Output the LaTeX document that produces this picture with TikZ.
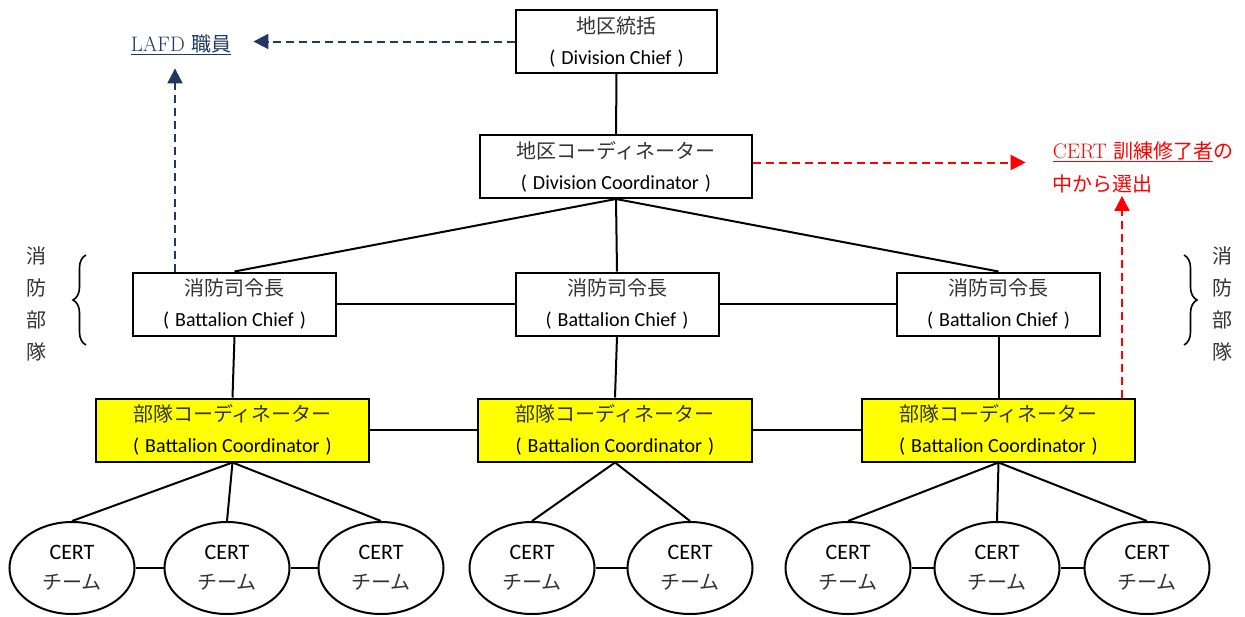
\documentclass[tikz,border=0pt]{standalone}
\usepackage{fontspec}
\newfontfamily\cjk{Noto Sans CJK JP}
\newfontfamily\calibri{Carlito}
\usetikzlibrary{arrows.meta, positioning, shapes.geometric, decorations.pathreplacing}
\definecolor{lafdBlue}{HTML}{203864}
\definecolor{certRed}{HTML}{FF0000}
\definecolor{coordYellow}{HTML}{FFFF00}
\definecolor{jpGray}{gray}{0.2}

\newcommand{\jp}[1]{{\cjk\fontsize{20}{31}\selectfont\color{jpGray}#1}}
\newcommand{\en}[1]{{\calibri\fontsize{20}{31}\selectfont #1}}
\newcommand{\paren}[1]{\en{(\kern6pt #1\kern6pt)}}

\tikzset{
    orgbox/.style={draw, line width=2pt, minimum width=#1, minimum height=63pt,
        inner sep=0pt, align=center, font=\fontsize{20}{31}\selectfont},
    coordbox/.style={orgbox=#1, fill=coordYellow},
    team/.style={draw, ellipse, line width=2pt, minimum width=125pt, minimum height=92pt,
        inner sep=0pt, align=center, font=\fontsize{20}{30}\selectfont},
    link/.style={line width=2pt},
    dashlink/.style={->, >={Triangle[width=15pt,length=15pt]}, line width=2pt, dash pattern=on 8pt off 5pt},
    sidetext/.style={align=center, inner sep=0pt, font=\fontsize{20}{32}\selectfont},
}

\begin{document}
\begin{tikzpicture}[x=1pt, y=-1pt]
    \useasboundingbox (0,0) rectangle (1245,616);

    % Top of the chain
    \node[orgbox=201] (dchief) at (616.5,41.5) {\jp{地区統括}\\\paren{Division Chief}};
    \node[orgbox=272] (dcoord) at (616,166.5) {\jp{地区コーディネーター}\\\paren{Division Coordinator}};
    \draw[link] (dchief) -- (dcoord);

    % Battalion chiefs
    \node[orgbox=203] (bchief1) at (234.5,304) {\jp{消防司令長}\\\paren{Battalion Chief}};
    \node[orgbox=203] (bchief2) at (617,304) {\jp{消防司令長}\\\paren{Battalion Chief}};
    \node[orgbox=203] (bchief3) at (998.5,304) {\jp{消防司令長}\\\paren{Battalion Chief}};
    \foreach \i in {1,2,3}
        \draw[link] (dcoord.south) -- (bchief\i.north);
    \draw[link] (bchief1) -- (bchief2);
    \draw[link] (bchief2) -- (bchief3);

    % Battalion coordinators
    \node[coordbox=273] (bcoord1) at (232.5,430) {\jp{部隊コーディネーター}\\\paren{Battalion Coordinator}};
    \node[coordbox=274] (bcoord2) at (615,430) {\jp{部隊コーディネーター}\\\paren{Battalion Coordinator}};
    \node[coordbox=273] (bcoord3) at (998.5,430) {\jp{部隊コーディネーター}\\\paren{Battalion Coordinator}};
    \foreach \i in {1,2,3}
        \draw[link] (bchief\i.south) -- (bcoord\i.north);
    \draw[link] (bcoord1) -- (bcoord2);
    \draw[link] (bcoord2) -- (bcoord3);

    % CERT teams
    \foreach \n/\x in {t1/72, t2/227, t3/381, t4/532, t5/690, t6/848, t7/997, t8/1147}
        \node[team] (\n) at (\x,568) {\en{\fontsize{22}{30}\selectfont CERT}\\\jp{チーム}};
    \foreach \n in {t1,t2,t3}
        \draw[link] (bcoord1.south) -- (\n.north);
    \foreach \n in {t4,t5}
        \draw[link] (bcoord2.south) -- (\n.north);
    \foreach \n in {t6,t7,t8}
        \draw[link] (bcoord3.south) -- (\n.north);
    \draw[link] (t1) -- (t2);
    \draw[link] (t2) -- (t3);
    \draw[link] (t4) -- (t5);
    \draw[link] (t6) -- (t7);
    \draw[link] (t7) -- (t8);

    % LAFD staff
    \node[inner sep=0pt, text=lafdBlue, font=\fontsize{21}{31}\selectfont] (lafd) at (181,45)
        {\underline{LAFD {\cjk\fontsize{20}{31}\selectfont 職員}}};
    \draw[dashlink, lafdBlue, shorten >=22pt] (dchief.west) -- (dchief.west -| lafd.east);
    \coordinate (bstart) at ([xshift=-59.5pt]bchief1.north);
    \draw[dashlink, lafdBlue, shorten >=13pt] (bstart) -- (bstart |- lafd.south);

    % CERT graduates
    \node[inner sep=0pt, text=certRed, align=left, font=\fontsize{21}{33}\selectfont] (cert) at (1143,167)
        {\underline{CERT {\cjk\fontsize{20}{33}\selectfont 訓練修了者}}{\cjk\fontsize{20}{33}\selectfont の}\\
         {\cjk\fontsize{20}{33}\selectfont 中から選出}};
    \coordinate (rstart) at ([yshift=4pt]dcoord.east);
    \draw[dashlink, certRed, shorten >=27pt] (rstart) -- (rstart -| cert.west);
    \coordinate (cstart) at ([xshift=-14pt]bcoord3.north east);
    \draw[dashlink, certRed, shorten >=3pt] (cstart) -- (cstart |- cert.south);

    % Fire battalion braces
    \node[sidetext] (fbl) at (36,304) {\jp{消}\\\jp{防}\\\jp{部}\\\jp{隊}};
    \node[sidetext] (fbr) at (1222,304) {\jp{消}\\\jp{防}\\\jp{部}\\\jp{隊}};
    \draw[line width=1.6pt, decorate, decoration={brace, amplitude=13pt}] (86,345) -- (86,255);
    \draw[line width=1.6pt, decorate, decoration={brace, amplitude=13pt}] (1184,255) -- (1184,345);
\end{tikzpicture}
\end{document}
